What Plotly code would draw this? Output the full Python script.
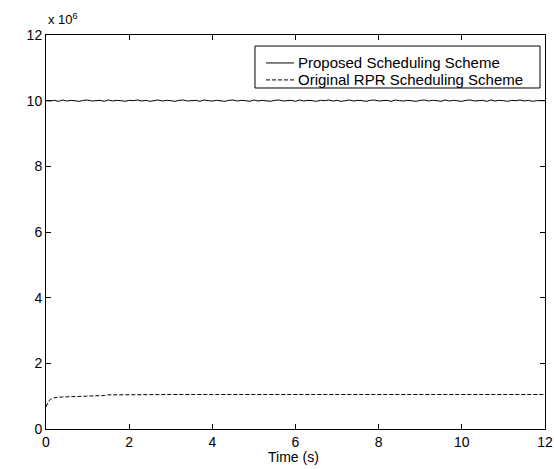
import plotly.graph_objects as go

# Data (values in units of 1e6)
t_proposed = [round(i * 0.1, 1) for i in range(121)]
v_proposed = [10.00, 9.99, 10.01, 9.98, 10.02, 9.99, 10.01, 10.00, 9.98, 10.01,
              10.02, 9.99, 10.00, 10.01, 9.98, 10.02, 9.99, 10.01, 10.00, 9.98,
              10.01, 10.00, 10.02, 9.99, 10.01, 9.98, 10.00, 10.02, 9.99, 10.01,
              10.00, 9.98, 10.01, 10.02, 9.99, 10.00, 10.01, 9.98, 10.02, 10.00,
              9.99, 10.01, 10.00, 9.98, 10.01, 10.02, 9.99, 10.01, 10.00, 9.98,
              10.02, 9.99, 10.01, 10.00, 9.98, 10.01, 10.02, 9.99, 10.00, 10.01,
              9.98, 10.02, 9.99, 10.01, 10.00, 9.98, 10.01, 10.00, 10.02, 9.99,
              10.01, 9.98, 10.00, 10.02, 9.99, 10.01, 10.00, 9.98, 10.01, 10.02,
              9.99, 10.00, 10.01, 9.98, 10.02, 10.00, 9.99, 10.01, 10.00, 9.98,
              10.01, 10.02, 9.99, 10.01, 10.00, 9.98, 10.02, 9.99, 10.01, 10.00,
              9.98, 10.01, 10.02, 9.99, 10.00, 10.01, 9.98, 10.02, 9.99, 10.01,
              10.00, 9.98, 10.01, 10.00, 10.02, 9.99, 10.01, 9.98, 10.00, 10.01,
              10.00]

t_original = [0.0, 0.05, 0.1, 0.2, 0.3, 0.5, 0.8, 1.0, 1.3, 1.4, 1.5, 2.0, 3.0,
              4.0, 5.0, 6.0, 7.0, 8.0, 9.0, 10.0, 11.0, 12.0]
v_original = [0.68, 0.82, 0.90, 0.95, 0.97, 0.98, 0.99, 1.00, 1.00, 1.02, 1.04,
              1.05, 1.05, 1.05, 1.05, 1.05, 1.05, 1.05, 1.05, 1.05, 1.05, 1.05]

series_names = ["Proposed Scheduling Scheme", "Original RPR Scheduling Scheme"]
series_dash = ["solid", "4px,2px"]

x_ticks = [0, 2, 4, 6, 8, 10, 12]
y_ticks = [0, 2, 4, 6, 8, 10, 12]
x_title = "Time (s)"

FONT = "Liberation Sans, Arial"

fig = go.Figure()
fig.add_trace(go.Scatter(x=t_proposed, y=v_proposed, mode="lines",
                         name=series_names[0], showlegend=False,
                         line=dict(color="black", width=1, dash=series_dash[0])))
fig.add_trace(go.Scatter(x=t_original, y=v_original, mode="lines",
                         name=series_names[1], showlegend=False,
                         line=dict(color="black", width=1, dash=series_dash[1])))

axis_common = dict(showline=True, linecolor="black", linewidth=1, mirror="ticks",
                   ticks="inside", ticklen=5, tickcolor="black", showgrid=False,
                   zeroline=False, automargin=False,
                   tickfont=dict(family=FONT, size=14, color="black"))

fig.update_xaxes(range=[0, 12], tickvals=x_ticks, **axis_common)
fig.update_yaxes(range=[0, 12], tickvals=y_ticks, **axis_common)

# x-axis title placed just below tick labels
fig.add_annotation(text=x_title, xref="paper", yref="paper", x=0.495, y=0,
                   xanchor="center", yanchor="top", showarrow=False, yshift=-18,
                   font=dict(family=FONT, size=14, color="black"))

fig.add_annotation(text="x 10<sup>6</sup>", xref="paper", yref="paper", x=0.0, y=1.0,
                   xanchor="left", yanchor="bottom", showarrow=False, yshift=6,
                   font=dict(family=FONT, size=13, color="black"))

# MATLAB-style legend box (drawn in paper coordinates)
leg_x0, leg_x1, leg_y0, leg_y1 = 0.4188, 0.99, 0.8655, 0.972
row_y = [0.929, 0.886]
sample_x0, sample_x1, text_x = 0.4409, 0.497, 0.501
fig.add_shape(type="rect", xref="paper", yref="paper", x0=leg_x0, x1=leg_x1,
              y0=leg_y0, y1=leg_y1, line=dict(color="black", width=1),
              fillcolor="white", layer="above")
for name, dash, ry in zip(series_names, series_dash, row_y):
    fig.add_shape(type="line", xref="paper", yref="paper", x0=sample_x0, x1=sample_x1,
                  y0=ry, y1=ry, line=dict(color="black", width=1, dash=dash), layer="above")
    fig.add_annotation(text=name, xref="paper", yref="paper", x=text_x, y=ry,
                       xanchor="left", yanchor="middle", showarrow=False,
                       font=dict(family=FONT, size=15, color="black"))

fig.update_layout(
    width=554, height=469,
    margin=dict(l=46, r=9, t=35, b=40),
    paper_bgcolor="white", plot_bgcolor="white",
    showlegend=False,
)

fig.write_html("out.html", config={"displayModeBar": False},
               post_script="document.body.style.margin='0';document.body.style.overflow='hidden';")
